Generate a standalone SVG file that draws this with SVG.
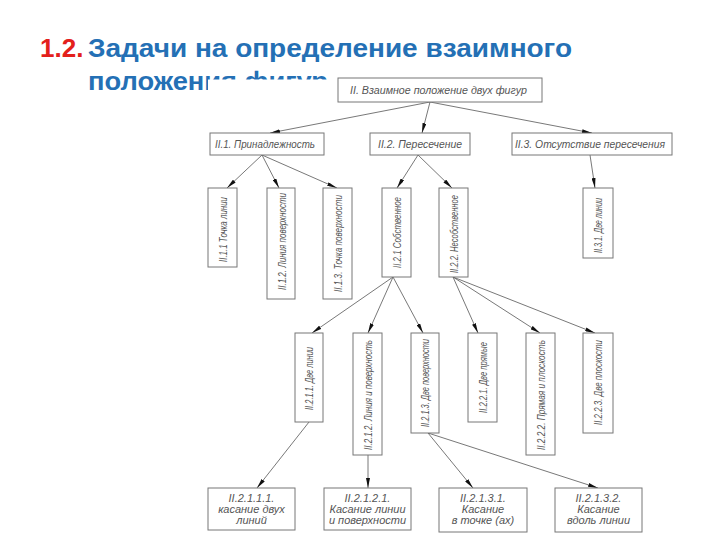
<svg xmlns="http://www.w3.org/2000/svg" width="720" height="540" viewBox="0 0 720 540">
<defs>
<style>
.title{font-family:"Liberation Sans",Arial,sans-serif;font-weight:bold;font-size:26px}
.box{fill:#fff;stroke:#777;stroke-width:1}
.t{font-family:"Liberation Sans",Arial,sans-serif;font-style:italic;font-size:11px;fill:#555}
.v{font-family:"Liberation Sans",Arial,sans-serif;font-style:italic;font-size:11px;fill:#555;text-anchor:middle}
.c{text-anchor:middle}
.ln{stroke:#555;stroke-width:0.8;fill:none;marker-end:url(#ah)}
</style>
<marker id="ah" viewBox="0 0 10 4" refX="10" refY="2" markerWidth="10" markerHeight="4" markerUnits="userSpaceOnUse" orient="auto">
<path d="M0,0 L10,2 L0,4 z" fill="#111"/>
</marker>
</defs>
<rect width="720" height="540" fill="#fff"/>
<g id="title">
<text class="title" x="40" y="57" fill="#E3201B">1.2.</text>
<text class="title" x="88" y="57" fill="#2470B5" textLength="484" lengthAdjust="spacingAndGlyphs">Задачи на определение  взаимного</text>
<text class="title" x="88" y="90" fill="#2470B5" textLength="240" lengthAdjust="spacingAndGlyphs">положения фигур</text>
</g>
<rect x="208" y="79.5" width="492" height="460" fill="#fff"/>
<g id="connectors">
<line class="ln" x1="430" y1="102" x2="270" y2="133"/>
<line class="ln" x1="430" y1="102" x2="422" y2="133"/>
<line class="ln" x1="430" y1="102" x2="592" y2="133"/>
<line class="ln" x1="262" y1="155" x2="227" y2="188"/>
<line class="ln" x1="262" y1="155" x2="279" y2="188"/>
<line class="ln" x1="262" y1="155" x2="337" y2="188"/>
<line class="ln" x1="418" y1="155" x2="397" y2="188"/>
<line class="ln" x1="418" y1="155" x2="452" y2="188"/>
<line class="ln" x1="590" y1="155" x2="595" y2="188"/>
<line class="ln" x1="393" y1="277" x2="312" y2="333"/>
<line class="ln" x1="393" y1="277" x2="368" y2="333"/>
<line class="ln" x1="393" y1="277" x2="423" y2="333"/>
<line class="ln" x1="453" y1="277" x2="478" y2="333"/>
<line class="ln" x1="453" y1="277" x2="540" y2="333"/>
<line class="ln" x1="453" y1="277" x2="595" y2="333"/>
<line class="ln" x1="309" y1="422" x2="257" y2="488"/>
<line class="ln" x1="368" y1="455" x2="368" y2="488"/>
<line class="ln" x1="428" y1="433" x2="473" y2="488"/>
<line class="ln" x1="428" y1="433" x2="598" y2="488"/>
</g>
<g id="n-II">
<rect class="box" x="338" y="78" width="204" height="24"/>
<text class="t" x="350" y="94" textLength="177" lengthAdjust="spacingAndGlyphs">II. Взаимное положение двух фигур</text>
</g>
<g id="n-II1">
<rect class="box" x="210" y="133" width="114" height="22"/>
<text class="t" x="215" y="148" textLength="100" lengthAdjust="spacingAndGlyphs">II.1. Принадлежность</text>
</g>
<g id="n-II2">
<rect class="box" x="370" y="133" width="100" height="22"/>
<text class="t" x="378" y="148" textLength="84" lengthAdjust="spacingAndGlyphs">II.2. Пересечение</text>
</g>
<g id="n-II3">
<rect class="box" x="512" y="133" width="160" height="22"/>
<text class="t" x="515" y="148" textLength="150" lengthAdjust="spacingAndGlyphs">II.3. Отсутствие пересечения</text>
</g>
<g id="n-II11">
<rect class="box" x="208" y="188" width="29" height="79"/>
<text class="v" transform="translate(226.5,229.5) rotate(-90)" textLength="65" lengthAdjust="spacingAndGlyphs">II.1.1 Точка линии</text>
</g>
<g id="n-II12">
<rect class="box" x="267" y="188" width="28" height="111"/>
<text class="v" transform="translate(285.5,241.5) rotate(-90)" textLength="97" lengthAdjust="spacingAndGlyphs">II.1.2. Линия поверхности</text>
</g>
<g id="n-II13">
<rect class="box" x="323" y="188" width="29" height="111"/>
<text class="v" transform="translate(341.5,243.5) rotate(-90)" textLength="97" lengthAdjust="spacingAndGlyphs">II.1.3. Точка поверхности</text>
</g>
<g id="n-II21">
<rect class="box" x="382" y="188" width="29" height="89"/>
<text class="v" transform="translate(400.5,232.5) rotate(-90)" textLength="71" lengthAdjust="spacingAndGlyphs">II.2.1 Собственное</text>
</g>
<g id="n-II22">
<rect class="box" x="439" y="188" width="29" height="89"/>
<text class="v" transform="translate(457.5,234) rotate(-90)" textLength="78" lengthAdjust="spacingAndGlyphs">II.2.2. Несобственное</text>
</g>
<g id="n-II31">
<rect class="box" x="583" y="188" width="30" height="70"/>
<text class="v" transform="translate(602,225.5) rotate(-90)" textLength="55" lengthAdjust="spacingAndGlyphs">II.3.1. Две линии</text>
</g>
<g id="n-II211">
<rect class="box" x="295" y="333" width="28" height="89"/>
<text class="v" transform="translate(313,378.5) rotate(-90)" textLength="63" lengthAdjust="spacingAndGlyphs">II.2.1.1. Две линии</text>
</g>
<g id="n-II212">
<rect class="box" x="353" y="333" width="29" height="122"/>
<text class="v" transform="translate(371.5,395) rotate(-90)" textLength="110" lengthAdjust="spacingAndGlyphs">II.2.1.2. Линия и поверхность</text>
</g>
<g id="n-II213">
<rect class="box" x="411" y="333" width="28" height="100"/>
<text class="v" transform="translate(429,383) rotate(-90)" textLength="88" lengthAdjust="spacingAndGlyphs">II.2.1.3. Две поверхности</text>
</g>
<g id="n-II221">
<rect class="box" x="468" y="333" width="29" height="89"/>
<text class="v" transform="translate(486.5,377.5) rotate(-90)" textLength="71" lengthAdjust="spacingAndGlyphs">II.2.2.1. Две прямые</text>
</g>
<g id="n-II222">
<rect class="box" x="526" y="333" width="29" height="122"/>
<text class="v" transform="translate(544.5,395) rotate(-90)" textLength="110" lengthAdjust="spacingAndGlyphs">II.2.2.2. Прямая и плоскость</text>
</g>
<g id="n-II223">
<rect class="box" x="583" y="333" width="30" height="100"/>
<text class="v" transform="translate(602,382.5) rotate(-90)" textLength="85" lengthAdjust="spacingAndGlyphs">II.2.2.3. Две плоскости</text>
</g>
<g id="n-II2111">
<rect class="box" x="208" y="488" width="87" height="42"/>
<text class="t c" x="251.5" y="502">II.2.1.1.1.</text>
<text class="t c" x="251.5" y="513">касание двух</text>
<text class="t c" x="251.5" y="524">линий</text>
</g>
<g id="n-II2121">
<rect class="box" x="324" y="488" width="87" height="42"/>
<text class="t c" x="367.5" y="502">II.2.1.2.1.</text>
<text class="t c" x="367.5" y="513">Касание линии</text>
<text class="t c" x="367.5" y="524">и поверхности</text>
</g>
<g id="n-II2131">
<rect class="box" x="439" y="488" width="88" height="44"/>
<text class="t c" x="483" y="502">II.2.1.3.1.</text>
<text class="t c" x="483" y="513">Касание</text>
<text class="t c" x="483" y="524">в точке (ах)</text>
</g>
<g id="n-II2132">
<rect class="box" x="555" y="488" width="87" height="44"/>
<text class="t c" x="598.5" y="502">II.2.1.3.2.</text>
<text class="t c" x="598.5" y="513">Касание</text>
<text class="t c" x="598.5" y="524">вдоль линии</text>
</g>
</svg>
